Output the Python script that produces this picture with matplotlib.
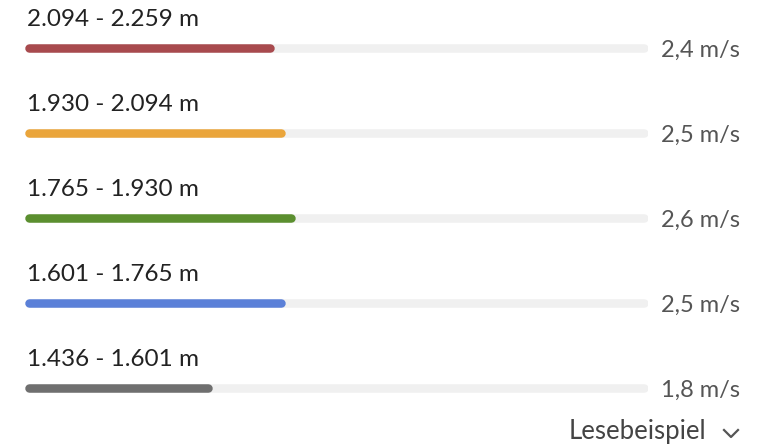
"""
Horizontal progress-style bars: speed per height class
"""

import matplotlib.pyplot as plt
from matplotlib.lines import Line2D

plt.rcParams['font.family'] = ['Lato', 'DejaVu Sans']

# data
labels = ["2.094 - 2.259 m", "1.930 - 2.094 m", "1.765 - 1.930 m",
          "1.601 - 1.765 m", "1.436 - 1.601 m"]
speeds = [2.4, 2.5, 2.6, 2.5, 1.8]
value_labels = ["2,4 m/s", "2,5 m/s", "2,6 m/s", "2,5 m/s", "1,8 m/s"]
colors = ["#a84a4e", "#eaa53b", "#5b8f2f", "#5b80d8", "#6f6f6f"]
x_max = 6.0

W, H = 760, 445
fig = plt.figure(figsize=(W / 100, H / 100), dpi=100)

# axes: x in m/s, track from px 25 to px 648; rows spaced 85 px, first bar at px 48
left_px, right_px = 25, 648
ax = fig.add_axes([left_px / W, 0, (right_px - left_px) / W, 1])
ax.set_xlim(0, x_max)
ax.set_ylim((H - 48) / 85, -48 / 85)
ax.axis('off')

px_per_unit = (right_px - left_px) / x_max
value_x = (740 - left_px) / px_per_unit
lw = 8.5 * 0.72
cap = 4 / px_per_unit  # half line width in data units, for round caps

for i, (lab, v, vl, c) in enumerate(zip(labels, speeds, value_labels, colors)):
    ax.plot([cap, x_max - cap], [i, i], color="#f0f0f0", linewidth=lw,
            solid_capstyle='round', zorder=1)
    ax.plot([cap, v - cap], [i, i], color=c, linewidth=lw,
            solid_capstyle='round', zorder=2)
    ax.text(0.02, i - 0.34, lab, fontsize=17.5, color="#222222",
            ha='left', va='center')
    ax.text(value_x, i + 0.03, vl, fontsize=17, color="#555555",
            ha='right', va='center', clip_on=False)

ax.text((706 - left_px) / px_per_unit, (432 - 48) / 85, "Lesebeispiel",
        fontsize=18.5, color="#444444", ha='right', va='center', clip_on=False)

# chevron
fig.add_artist(Line2D([724 / W, 731 / W, 738 / W],
                      [1 - 430 / H, 1 - 437 / H, 1 - 430 / H],
                      color="#555555", linewidth=1.6, transform=fig.transFigure))

plt.savefig("out.png", dpi=100)
